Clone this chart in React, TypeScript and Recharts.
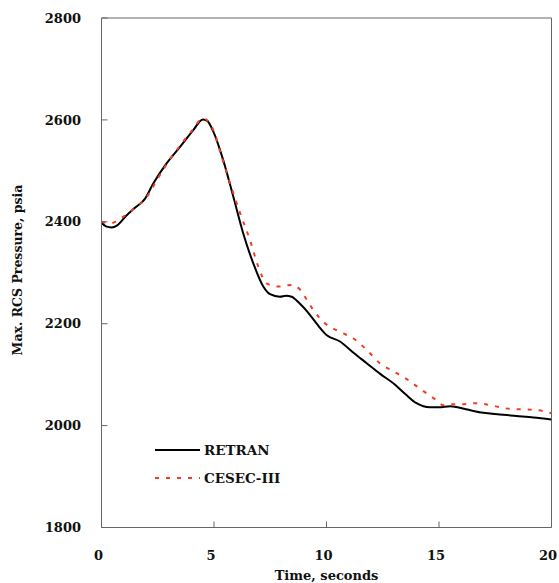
import React from "react";
import { LineChart, Line, XAxis, YAxis, ReferenceLine } from "recharts";

// RETRAN run
const retranTime = [0, 0.2, 0.45, 0.7, 1.1, 1.5, 1.93, 2.3, 2.9, 3.49, 4.08, 4.5, 4.7, 4.97, 5.41, 5.86, 6.3, 6.75, 7.19, 7.49, 7.93, 8.2, 8.45, 8.8, 9.27, 9.6, 10.0, 10.6, 11.2, 11.8, 12.4, 12.97, 13.5, 14.0, 14.6, 15.0, 15.5, 16.2, 16.97, 17.7, 18.45, 19.2, 20];
const retranPressure = [2398, 2391, 2389, 2393, 2412, 2428, 2445, 2475, 2515, 2547, 2580, 2601, 2598, 2577, 2521, 2449, 2377, 2318, 2273, 2258, 2253, 2255, 2253, 2240, 2217, 2198, 2178, 2165, 2143, 2122, 2101, 2083, 2062, 2044, 2036, 2036, 2038, 2032, 2025, 2022, 2019, 2016, 2012];

// CESEC-III run
const cesecTime = [0, 0.4, 0.9, 1.5, 2.0, 2.5, 3.0, 3.5, 4.0, 4.53, 4.97, 5.34, 5.71, 6.16, 6.6, 6.97, 7.34, 7.86, 8.45, 8.8, 9.04, 9.41, 9.93, 10.6, 11.2, 11.8, 12.38, 13.0, 13.64, 14.23, 14.82, 15.2, 15.49, 16.0, 16.67, 17.3, 17.93, 18.6, 19.2, 19.86, 20];
const cesecPressure = [2400, 2397, 2408, 2428, 2448, 2485, 2520, 2550, 2578, 2603, 2580, 2528, 2476, 2417, 2364, 2312, 2279, 2273, 2276, 2268, 2253, 2227, 2201, 2184, 2171, 2148, 2122, 2106, 2089, 2070, 2052, 2040, 2042, 2042, 2044, 2040, 2034, 2032, 2031, 2026, 2024];

const xTicks = [0, 5, 10, 15, 20];
const yTicks = [1800, 2000, 2200, 2400, 2600, 2800];

const retranData = retranTime.map((t, i) => ({ t, p: retranPressure[i] }));
const cesecData = cesecTime.map((t, i) => ({ t, p: cesecPressure[i] }));

const FONT = "'DejaVu Serif', serif";
const AXIS = "#666666";
const RED = "#f03c22";

const tickStyle = { fontFamily: FONT, fontWeight: 700, fontSize: 13, fill: "#111" };

// x tick labels sit a few px left of their ticks in the original
function XTick({ x, y, payload }: any) {
  return (
    <text x={x - 3} y={y} dy="0.71em" textAnchor="middle" {...tickStyle}>
      {payload.value}
    </text>
  );
}

function LegendBox() {
  return (
    <svg width={150} height={60} style={{ position: "absolute", left: 155, top: 440, overflow: "visible" }}>
      <line x1={0} y1={10} x2={45} y2={10} stroke="#000" strokeWidth={2} />
      <text x={49} y={15} fontFamily={FONT} fontWeight={700} fontSize={13.5} fill="#111">RETRAN</text>
      <line x1={0} y1={38} x2={45} y2={38} stroke={RED} strokeWidth={2} strokeDasharray="4 7" />
      <text x={49} y={43} fontFamily={FONT} fontWeight={700} fontSize={13.5} fill="#111">CESEC-III</text>
    </svg>
  );
}

export default function App() {
  return (
    <div style={{ position: "absolute", left: 0, top: 0, width: 559, height: 583, background: "#fff" }}>
      <LineChart width={559} height={583} margin={{ top: 18, right: 7.5, left: 0, bottom: 0 }}>
        <XAxis
          dataKey="t"
          type="number"
          domain={[0, 20]}
          ticks={xTicks}
          allowDataOverflow
          height={55.5}
          stroke={AXIS}
          tickSize={-6}
          tickMargin={29.5}
          tick={<XTick />}
          label={({ viewBox }: any) => (
            <text
              x={viewBox.x + viewBox.width / 2}
              y={580}
              textAnchor="middle"
              fontFamily={FONT}
              fontWeight={700}
              fontSize={13}
              fill="#111"
            >
              Time, seconds
            </text>
          )}
        />
        <YAxis
          dataKey="p"
          type="number"
          domain={[1800, 2800]}
          ticks={yTicks}
          allowDataOverflow
          width={101.5}
          stroke={AXIS}
          tickSize={-6}
          tickMargin={26.5}
          tick={tickStyle}
          label={() => (
            <text
              x={22}
              y={270}
              transform="rotate(-90 22 270)"
              textAnchor="middle"
              fontFamily={FONT}
              fontWeight={700}
              fontSize={12.5}
              fill="#111"
            >
              Max. RCS Pressure, psia
            </text>
          )}
        />
        <ReferenceLine y={2800} stroke={AXIS} />
        <ReferenceLine x={20} stroke={AXIS} />
        <Line
          data={retranData}
          dataKey="p"
          name="RETRAN"
          type="monotone"
          stroke="#000"
          strokeWidth={2}
          dot={false}
          isAnimationActive={false}
        />
        <Line
          data={cesecData}
          dataKey="p"
          name="CESEC-III"
          type="monotone"
          stroke={RED}
          strokeWidth={2}
          strokeDasharray="4 7"
          dot={false}
          isAnimationActive={false}
        />
      </LineChart>
      <LegendBox />
    </div>
  );
}
